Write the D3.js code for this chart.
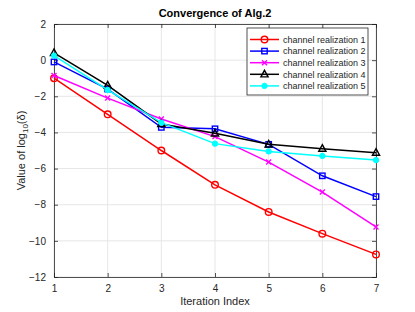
<!DOCTYPE html>
<html>
<head>
<meta charset="utf-8">
<script src="https://cdn.jsdelivr.net/npm/d3@7"></script>
<style>
  body { margin: 0; background: #fff; }
  svg { font-family: "Liberation Sans", Arial, sans-serif; }
</style>
</head>
<body>
<svg id="canvas" width="415" height="312"></svg>
<script>
// data
const iterations = [1, 2, 3, 4, 5, 6, 7];
const seriesNames = ['channel realization 1', 'channel realization 2', 'channel realization 3',
                     'channel realization 4', 'channel realization 5'];
const real1 = [-1.0, -3.0, -5.0, -6.9, -8.4, -9.6, -10.75];
const real2 = [-0.1, -1.6, -3.72, -3.8, -4.66, -6.4, -7.55];
const real3 = [-0.85, -2.1, -3.26, -4.23, -5.64, -7.3, -9.23];
const real4 = [0.4, -1.4, -3.53, -4.05, -4.66, -4.9, -5.12];
const real5 = [0.25, -1.65, -3.46, -4.62, -5.05, -5.3, -5.53];
const yTicks = [-12, -10, -8, -6, -4, -2, 0, 2];

const colors = ['#ff0000', '#0000ff', '#ff00ff', '#000000', '#00ffff'];
const markers = ['circle', 'square', 'x', 'triangle', 'dot'];
const allSeries = [real1, real2, real3, real4, real5];

// margins & dimensions
const margin = { top: 24, right: 39, bottom: 35, left: 54 };
const width = 415 - margin.left - margin.right;
const height = 312 - margin.top - margin.bottom;

const svg = d3.select('#canvas');
const g = svg.append('g').attr('transform', `translate(${margin.left},${margin.top})`);

const xScale = d3.scaleLinear().domain([1, 7]).range([0, width]);
const yScale = d3.scaleLinear().domain([-12, 2]).range([height, 0]);

// grid
g.append('g').selectAll('line')
  .data(iterations)
  .join('line')
    .attr('x1', d => xScale(d)).attr('x2', d => xScale(d))
    .attr('y1', 0).attr('y2', height)
    .attr('stroke', '#e6e6e6').attr('stroke-width', 1);
g.append('g').selectAll('line')
  .data(yTicks)
  .join('line')
    .attr('x1', 0).attr('x2', width)
    .attr('y1', d => yScale(d)).attr('y2', d => yScale(d))
    .attr('stroke', '#e6e6e6').attr('stroke-width', 1);

// axes (MATLAB style: inward ticks, box)
const axisColor = '#262626';
const xAxis = d3.axisBottom(xScale).tickValues(iterations).tickSize(-4).tickPadding(8).tickFormat(d3.format('d'));
const yAxis = d3.axisLeft(yScale).tickValues(yTicks).tickSize(-4).tickPadding(8);
const xTop = d3.axisTop(xScale).tickValues(iterations).tickSize(-4).tickFormat('');
const yRight = d3.axisRight(yScale).tickValues(yTicks).tickSize(-4).tickFormat('');

function styleAxis(sel) {
  sel.selectAll('path').attr('stroke', axisColor).attr('stroke-width', 0.8);
  sel.selectAll('line').attr('stroke', axisColor).attr('stroke-width', 0.8);
  sel.selectAll('text').attr('fill', axisColor).style('font-size', '10px')
     .style('font-family', '"Liberation Sans", Arial, sans-serif');
}

g.append('g').attr('transform', `translate(0,${height})`).call(xAxis).call(styleAxis);
g.append('g').call(yAxis).call(styleAxis);
g.append('g').call(xTop).call(styleAxis);
g.append('g').attr('transform', `translate(${width},0)`).call(yRight).call(styleAxis);

// lines
const lineGen = d3.line()
  .x((d, i) => xScale(iterations[i]))
  .y(d => yScale(d));

// draw a marker at (x, y)
function drawMarker(sel, type, color, x, y) {
  if (type === 'circle') {
    sel.append('circle').attr('cx', x).attr('cy', y).attr('r', 3.3)
      .attr('fill', 'none').attr('stroke', color).attr('stroke-width', 1.4);
  } else if (type === 'square') {
    sel.append('rect').attr('x', x - 2.7).attr('y', y - 2.7).attr('width', 5.4).attr('height', 5.4)
      .attr('fill', 'none').attr('stroke', color).attr('stroke-width', 1.4);
  } else if (type === 'x') {
    sel.append('path').attr('d', `M${x - 2.5},${y - 2.5}L${x + 2.5},${y + 2.5}M${x - 2.5},${y + 2.5}L${x + 2.5},${y - 2.5}`)
      .attr('stroke', color).attr('stroke-width', 1.4);
  } else if (type === 'triangle') {
    sel.append('path').attr('d', `M${x},${y - 4}L${x + 3.6},${y + 2.6}L${x - 3.6},${y + 2.6}Z`)
      .attr('fill', 'none').attr('stroke', color).attr('stroke-width', 1.4);
  } else {
    sel.append('circle').attr('cx', x).attr('cy', y).attr('r', 2.7)
      .attr('fill', color).attr('stroke', color).attr('stroke-width', 1);
  }
}

allSeries.forEach((vals, s) => {
  const layer = g.append('g');
  layer.append('path')
    .attr('d', lineGen(vals))
    .attr('fill', 'none')
    .attr('stroke', colors[s])
    .attr('stroke-width', 1.5);
  vals.forEach((v, i) => drawMarker(layer, markers[s], colors[s], xScale(iterations[i]), yScale(v)));
});

// legend
const legend = svg.append('g').attr('transform', 'translate(247,28)');
legend.append('rect')
  .attr('x', 0).attr('y', 0).attr('width', 121).attr('height', 67)
  .attr('fill', '#fff').attr('stroke', axisColor).attr('stroke-width', 0.8);
seriesNames.forEach((name, s) => {
  const y = 11.5 + s * 11.6;
  legend.append('line')
    .attr('x1', 3).attr('x2', 32).attr('y1', y).attr('y2', y)
    .attr('stroke', colors[s]).attr('stroke-width', 1.5);
  drawMarker(legend, markers[s], colors[s], 17.5, y);
  legend.append('text')
    .attr('x', 36).attr('y', y + 3.3)
    .attr('fill', axisColor)
    .style('font-size', '9px')
    .text(name);
});

// title and labels
svg.append('text')
  .attr('x', margin.left + width / 2).attr('y', 17)
  .attr('text-anchor', 'middle')
  .style('font-size', '11px').style('font-weight', 'bold')
  .attr('fill', '#000')
  .text('Convergence of Alg.2');

svg.append('text')
  .attr('x', margin.left + width / 2).attr('y', 305)
  .attr('text-anchor', 'middle')
  .style('font-size', '11px')
  .attr('fill', axisColor)
  .text('Iteration Index');

const ylab = svg.append('text')
  .attr('transform', `translate(25,${margin.top + height / 2}) rotate(-90)`)
  .attr('text-anchor', 'middle')
  .style('font-size', '11px')
  .attr('fill', axisColor);
ylab.append('tspan').text('Value of log');
ylab.append('tspan').attr('dy', 3).style('font-size', '8px').text('10');
ylab.append('tspan').attr('dy', -3).text('(δ)');
</script>
</body>
</html>
